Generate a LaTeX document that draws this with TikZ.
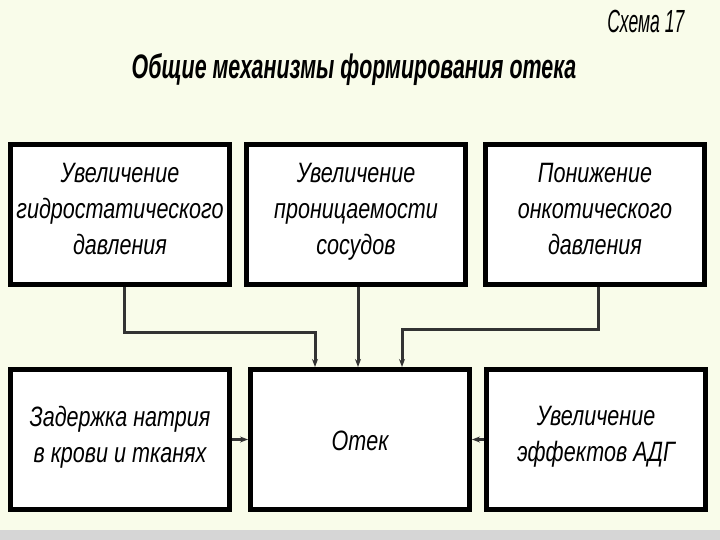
\documentclass[tikz,border=0pt]{standalone}
\usepackage{fontspec}
\usepackage{xcolor}
\usepackage{tikz}
\usetikzlibrary{arrows.meta}
\newfontfamily\bodyfont{Liberation Sans}[FakeStretch=0.77]
\newfontfamily\headfont{Liberation Sans}[FakeStretch=0.63]
\newfontfamily\notefont{Liberation Sans}[FakeStretch=0.55]
\definecolor{bgcream}{RGB}{249,252,234}
\definecolor{stripgray}{RGB}{214,214,214}
\tikzset{
  blk/.style={draw=black, fill=white, line width=5pt, minimum width=219pt,
              minimum height=140pt, inner sep=0pt, align=center,
              font=\bodyfont\itshape\fontsize{28}{36}\selectfont,
              execute at begin node={\rule{0pt}{33pt}}, execute at end node=\strut},
  arr/.style={draw=black!80, line width=3pt,
              -{Stealth[length=8pt,width=6pt]}}}

\begin{document}
\begin{tikzpicture}[x=1pt, y=-1pt]
  \fill[bgcream] (0,0) rectangle (720,540);
  \fill[stripgray] (0,530) rectangle (720,540);
  \useasboundingbox (0,0) rectangle (720,540);
  % headings
  \node[anchor=base east, font=\notefont\itshape\fontsize{32}{34}\selectfont] (num) at (688,33) {Схема 17};
  \node[anchor=base, font=\headfont\bfseries\itshape\fontsize{34}{36}\selectfont] (title) at (354,79)
    {Общие механизмы формирования отека};
  % top row: causes
  \node[blk] (hyd) at (120,214.5) {Увеличение\\гидростатического\\давления};
  \node[blk] (perm) at (356,214.5) {Увеличение\\проницаемости\\сосудов};
  \node[blk] (onc) at (595,214.5) {Понижение\\онкотического\\давления};
  % bottom row
  \node[blk] (sod) at (120,439.5) {Задержка натрия\\в крови и тканях};
  \node[blk] (otek) at (360,439.5) {Отек};
  \node[blk] (adg) at (596,439.5) {Увеличение\\эффектов АДГ};
  % connectors
  \draw[arr] ([xshift=4pt]hyd.south) -- ++(0,45) -| ([xshift=-45pt]otek.north);
  \draw[arr] ([xshift=2pt]perm.south) -- ([xshift=-2pt]otek.north);
  \draw[arr] ([xshift=3pt]onc.south) -- ++(0,42) -| ([xshift=42pt]otek.north);
  \draw[arr] (sod.east) -- (otek.west);
  \draw[arr] (adg.west) -- (otek.east);
\end{tikzpicture}
\end{document}
